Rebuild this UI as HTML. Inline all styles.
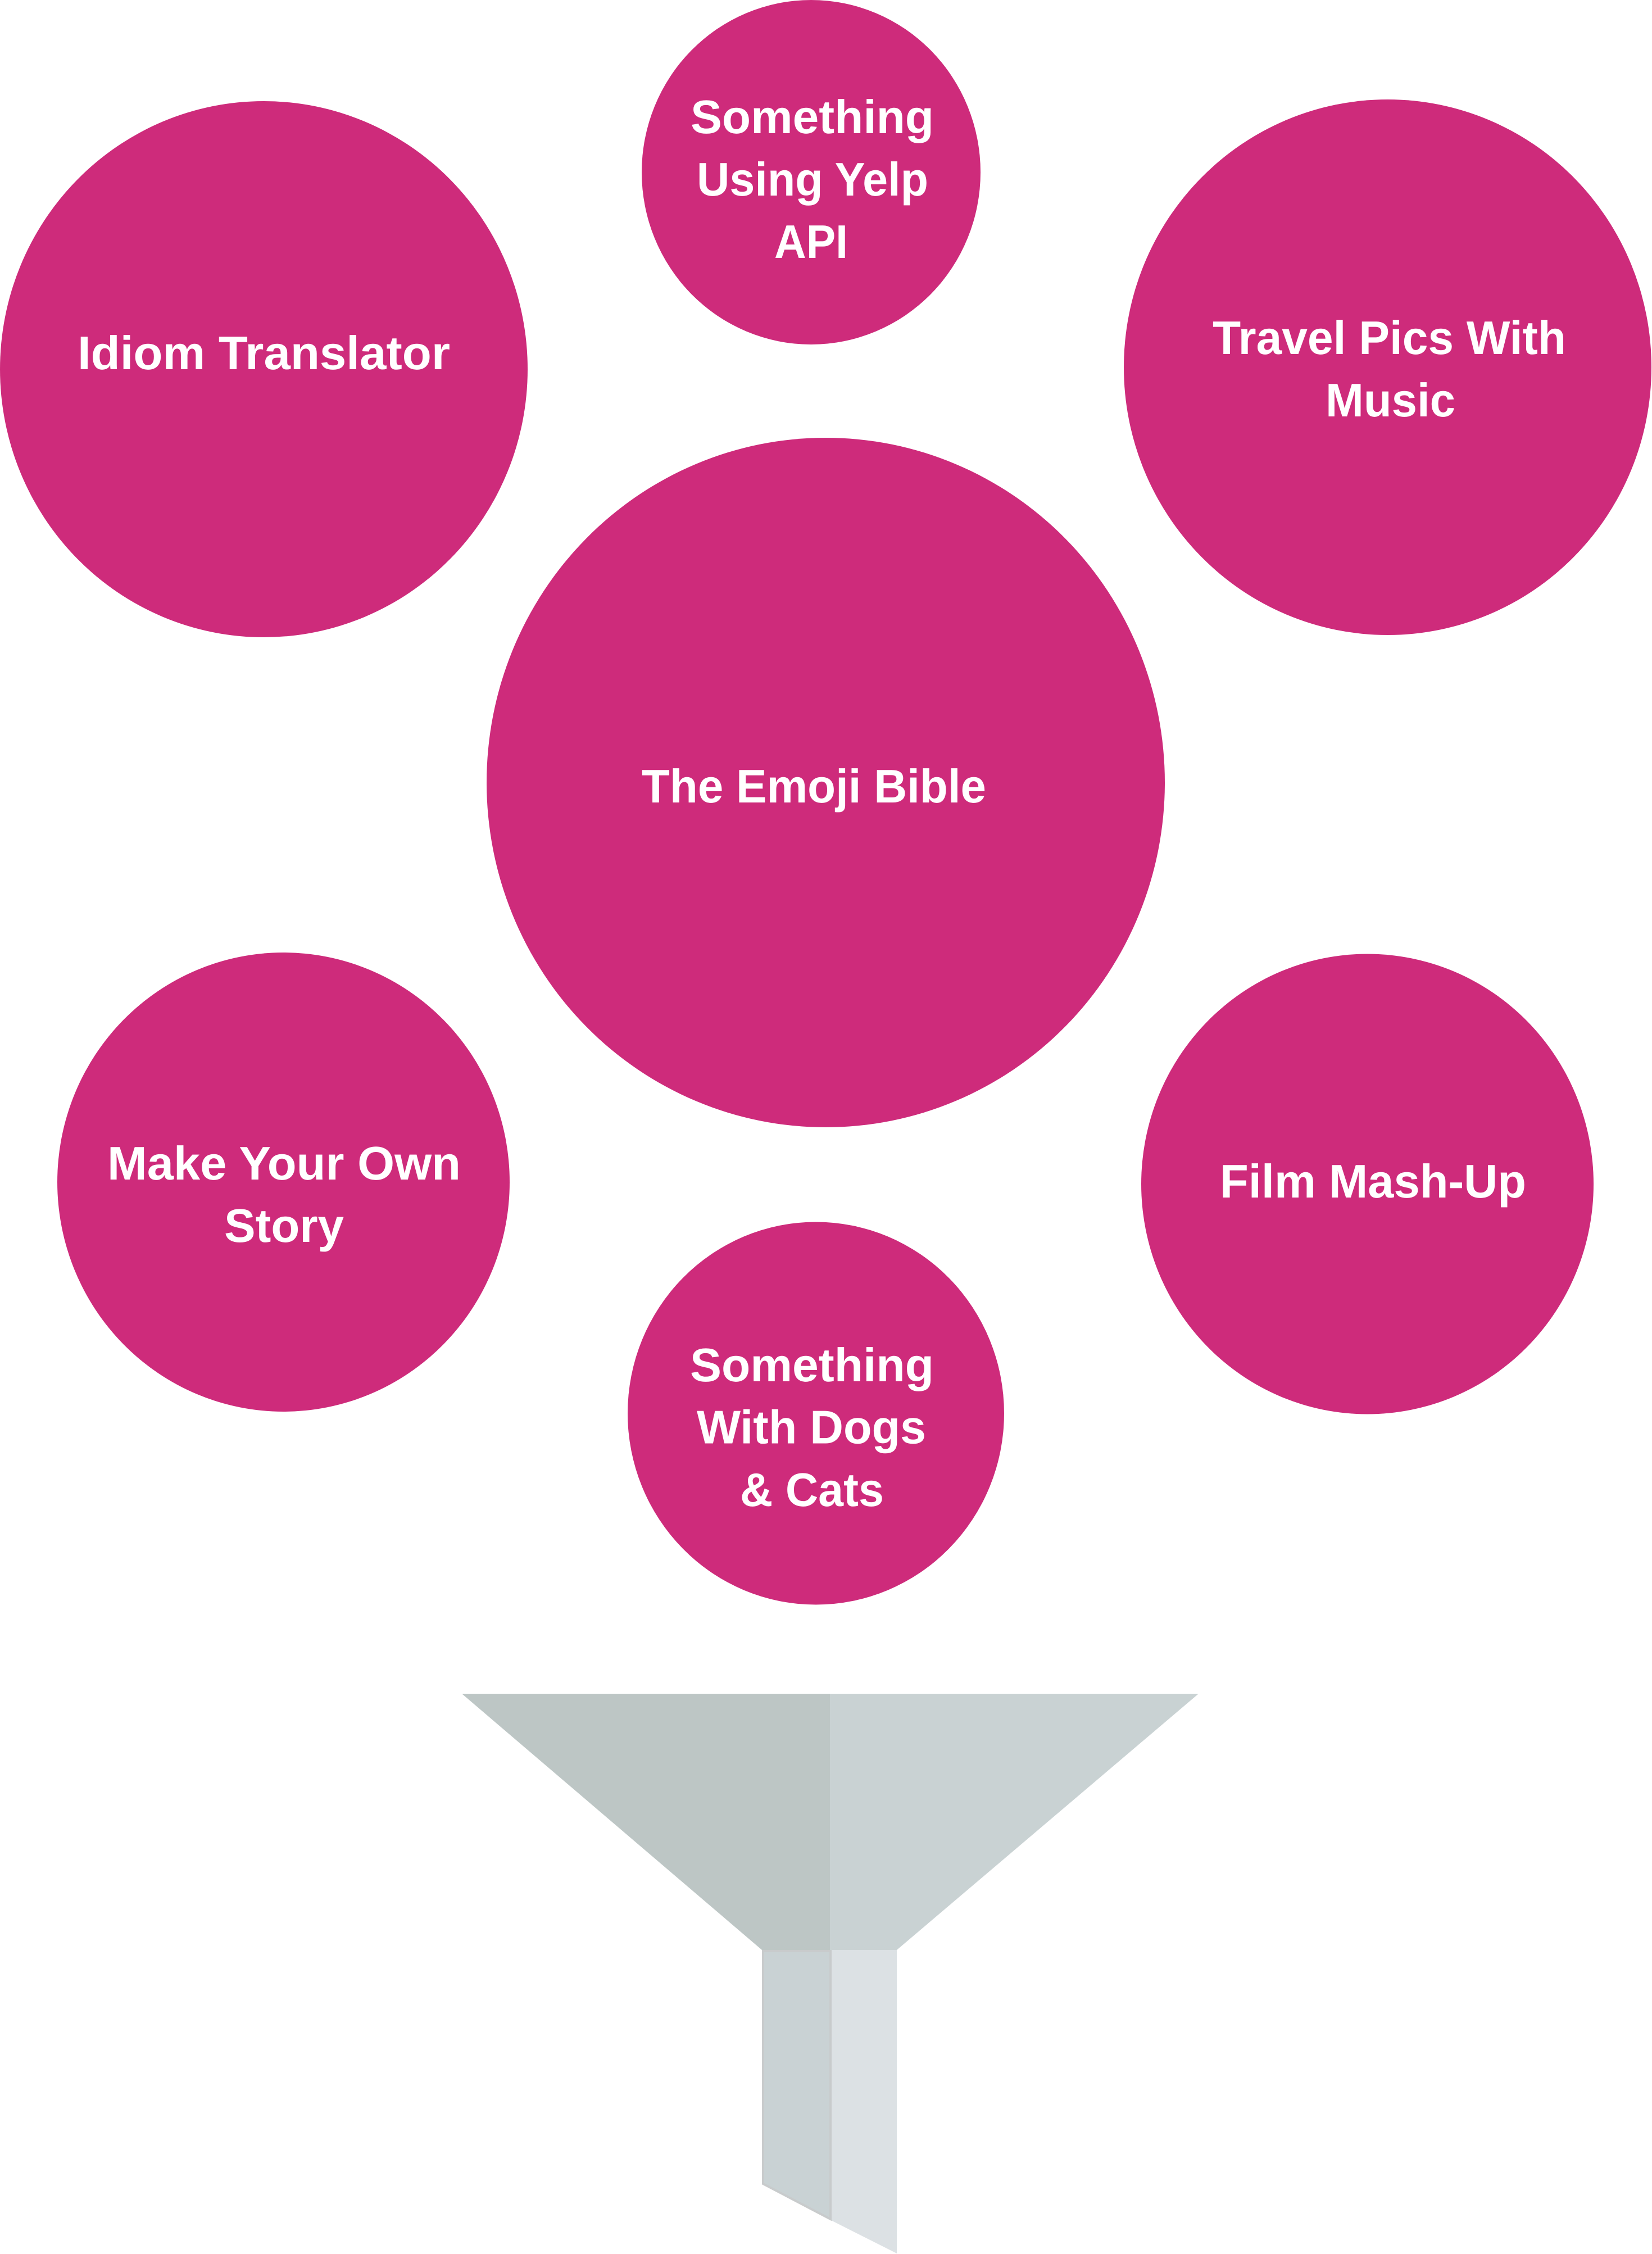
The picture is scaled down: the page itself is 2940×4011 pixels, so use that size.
<!DOCTYPE html>
<html lang="en">
<head>
<meta charset="utf-8">
<title>The Emoji Bible</title>
<style>
html,body{margin:0;padding:0;background:#fff;width:2940px;height:4011px;overflow:hidden}
svg{display:block}
text{font-family:"Liberation Sans",Arial,sans-serif;font-weight:700;font-size:84px;fill:#fff;text-rendering:geometricPrecision}
</style>
</head>
<body>
<svg xmlns="http://www.w3.org/2000/svg" width="2940" height="4011" viewBox="0 0 2940 4011">
<rect width="2940" height="4011" fill="#fff"/>
<g fill="#ce2b7b">
<ellipse cx="1443.5" cy="306.5" rx="301.5" ry="306.5"/>
<ellipse cx="469.5" cy="657" rx="469.5" ry="477"/>
<ellipse cx="2469.5" cy="653.5" rx="469.5" ry="476.5"/>
<ellipse cx="1469.5" cy="1392.5" rx="603.5" ry="613.5"/>
<ellipse cx="504.5" cy="2103.5" rx="402.5" ry="408.5"/>
<ellipse cx="2433.5" cy="2107" rx="402.5" ry="409.5"/>
<ellipse cx="1452" cy="2515" rx="335" ry="340.5"/>
</g>
<g>
<text x="1229" y="237" textLength="433" lengthAdjust="spacingAndGlyphs">Something</text>
<text x="1240" y="348" textLength="412" lengthAdjust="spacingAndGlyphs">Using Yelp</text>
<text x="1378" y="459" textLength="131" lengthAdjust="spacingAndGlyphs">API</text>
<text x="138" y="657" textLength="663" lengthAdjust="spacingAndGlyphs">Idiom Translator</text>
<text x="2158" y="630" textLength="629" lengthAdjust="spacingAndGlyphs">Travel Pics With</text>
<text x="2359" y="741" textLength="231" lengthAdjust="spacingAndGlyphs">Music</text>
<text x="1142" y="1428" textLength="613" lengthAdjust="spacingAndGlyphs">The Emoji Bible</text>
<text x="191" y="2099" textLength="629" lengthAdjust="spacingAndGlyphs">Make Your Own</text>
<text x="399" y="2210" textLength="213" lengthAdjust="spacingAndGlyphs">Story</text>
<text x="2171" y="2131" textLength="545" lengthAdjust="spacingAndGlyphs">Film Mash-Up</text>
<text x="1228" y="2458" textLength="434" lengthAdjust="spacingAndGlyphs">Something</text>
<text x="1240" y="2568.5" textLength="408" lengthAdjust="spacingAndGlyphs">With Dogs</text>
<text x="1317" y="2680" textLength="256" lengthAdjust="spacingAndGlyphs">&amp; Cats</text>
</g>
<polygon points="1479,3470 1596,3470 1596,4010 1479,3951" fill="#dce1e4"/>
<polygon points="822,3014 1477,3014 1477,3470 1356,3470" fill="#bdc6c5"/>
<polygon points="1477,3014 2133,3014 1596,3470 1477,3470" fill="#c9d2d3"/>
<polygon points="1358,3472 1478,3472 1478,3949 1358,3886" fill="#c9d2d4" stroke="#c8cbcc" stroke-width="4"/>
</svg>
</body>
</html>
